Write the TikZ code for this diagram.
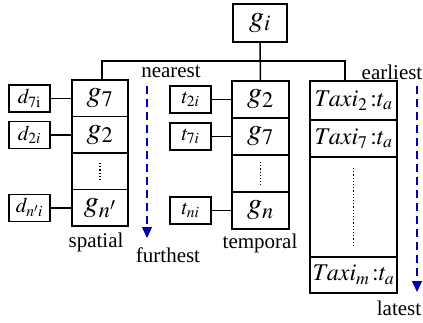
\documentclass[tikz,border=0pt]{standalone}
\usepackage{mathptmx}
\usepackage{fontspec}
\setmainfont{Liberation Serif}
\usetikzlibrary{arrows.meta, positioning, calc}

\begin{document}
\begin{tikzpicture}[x=1pt,y=-1pt,line width=1.5pt,node distance=0pt,
			cell/.style={draw,inner sep=0pt,outer sep=0pt,font=\fontsize{30}{32}\selectfont},
			scol/.style={cell,minimum width=56pt,minimum height=36.5pt},
			tcol/.style={cell,minimum width=57pt,minimum height=37pt},
			rcol/.style={cell,minimum width=87pt,minimum height=37pt,font=\fontsize{24}{26}\selectfont},
			key node/.style={draw,inner sep=0pt,outer sep=0pt,minimum width=41pt,minimum height=27pt,font=\fontsize{21}{23}\selectfont},
			word/.style={inner sep=0pt,font=\fontsize{21}{24}\selectfont},
			order/.style={draw=blue!70!black,line width=1.3pt,dash pattern=on 8pt off 5pt,-{Triangle[width=10pt,length=11pt,fill=blue!70!black]}}]
			
			\useasboundingbox (0,0) rectangle (423,322);
			
			\node[cell,minimum width=54pt,minimum height=38pt] (gi) at (260,23) {$g_i$};
			
			% spatial
			\node[scol] (s1) at (100,98.25) {$g_7$};
			\node[scol] (s2) [below=of s1] {$g_2$};
			\node[scol] (s3) [below=of s2] {};
			\node[scol] (s4) [below=of s3] {$g_{n'}$};
			\node[key node] (d1) [left=22pt of s1] {$d_{7\mathrm{i}}$};
			\node[key node] (d2) [left=22pt of s2] {$d_{2i}$};
			\node[key node] (d4) [left=22pt of s4] {$d_{n'i}$};
			
			% temporal
			\node[tcol] (t1) at (260.5,99.5) {$g_2$};
			\node[tcol] (t2) [below=of t1] {$g_7$};
			\node[tcol] (t3) [below=of t2] {};
			\node[tcol] (t4) [below=of t3] {$g_n$};
			\node[key node] (k1) [left=21pt of t1] {$t_{2i}$};
			\node[key node] (k2) [left=21pt of t2] {$t_{7i}$};
			\node[key node] (k4) [left=21pt of t4] {$t_{ni}$};
			
			% taxis
			\node[rcol,minimum height=39pt] (r1) at (353.5,100.5) {$Taxi_2\,{:}t_a$};
			\node[rcol] (r2) [below=of r1] {$Taxi_7\,{:}t_a$};
			\node[rcol,minimum height=100pt] (r3) [below=of r2] {};
			\node[rcol,minimum height=36pt] (r4) [below=of r3] {$Taxi_m\,{:}t_a$};
			
			\coordinate (bus) at (260,61);
			\draw (gi) -- (t1);
			\draw ([xshift=2pt]s1.north) |- (bus) -| ([xshift=-8.5pt]r1.north);
			
			\draw (d1) -- (s1);
			\draw (d2) -- (s2);
			\draw (d4) -- (s4);
			\draw (k1) -- (t1);
			\draw (k2) -- (t2);
			\draw (k4) -- (t4);
			
			\draw[dotted,line width=1.2pt] ([yshift=-10pt]s3.north) -- ([yshift=10pt]s3.south);
			\draw[dotted,line width=1.2pt] ([yshift=-7pt]t3.north) -- ([yshift=7pt]t3.south);
			\draw[dotted,line width=1.2pt] ([yshift=-11pt]r3.north) -- ([yshift=10pt]r3.south);
			
			\coordinate (a1) at (147,86);
			\coordinate (a2) at (147,238);
			\coordinate (b1) at (417,86);
			\coordinate (b2) at (417,292);
			\draw[order] (a1) -- (a2);
			\draw[order] (b1) -- (b2);
			
			\node[word] (near) at (171,72) {nearest};
			\node[word] (far) at (168,255) {furthest};
			\node[word] (early) at (392,72) {earliest};
			\node[word] (late) at (399,308) {latest};
			\node[word] (spat) at (96,242) {spatial};
			\node[word] (temp) at (260,243) {temporal};
		\end{tikzpicture}
\end{document}
